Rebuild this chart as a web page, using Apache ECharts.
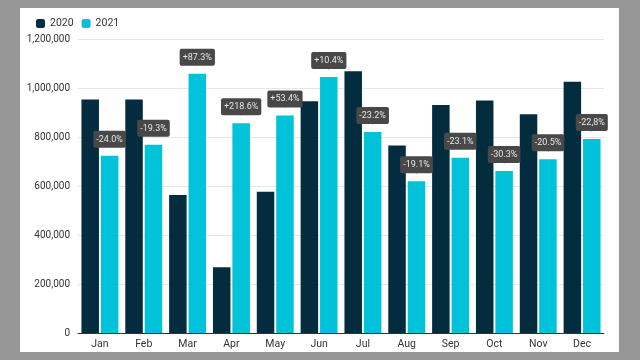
<!DOCTYPE html>
<html>
<head>
<meta charset="utf-8">
<script src="https://cdn.jsdelivr.net/npm/echarts@6/dist/echarts.min.js"></script>
<style>
html,body{margin:0;padding:0;background:#969696;}
#c{width:640px;height:360px;}
</style>
</head>
<body>
<div id="c"></div>
<script>
const months = ['Jan','Feb','Mar','Apr','May','Jun','Jul','Aug','Sep','Oct','Nov','Dec'];
const values2020 = [953000, 953000, 563000, 268000, 577000, 946000, 1068000, 765000, 931000, 949000, 893000, 1026000];
const values2021 = [723000, 768000, 1058000, 856000, 888000, 1045000, 820000, 619000, 715000, 661000, 709000, 792000];
const changeLabels = ['-24.0%','-19.3%','+87.3%','+218.6%','+53.4%','+10.4%','-23.2%','-19.1%','-23.1%','-30.3%','-20.5%','-22,8%'];
const yTicks = [0, 200000, 400000, 600000, 800000, 1000000, 1200000];

const chart = echarts.init(document.getElementById('c'), null, {renderer:'canvas'});
const font = "Roboto, sans-serif";
chart.setOption({
  backgroundColor: '#969696',
  animation: false,
  graphic: [{
    type: 'rect', z: -10, silent: true,
    shape: {x: 20, y: 8, width: 599, height: 344},
    style: {fill: '#ffffff'}
  }],
  legend: {
    left: 31, top: 13,
    itemWidth: 9, itemHeight: 9, itemGap: 8,
    icon: 'roundRect',
    textStyle: {fontFamily: font, fontSize: 10.5, color: '#333'},
    data: ['2020','2021']
  },
  grid: {left: 78, right: 36, top: 39, bottom: 27, containLabel: false},
  xAxis: {
    type: 'category',
    data: months,
    axisLine: {lineStyle: {color: '#333', width: 1}},
    axisTick: {show: false},
    axisLabel: {fontFamily: font, fontSize: 10.5, color: '#333', margin: 6}
  },
  yAxis: {
    type: 'value',
    min: yTicks[0], max: yTicks[yTicks.length-1], interval: yTicks[1]-yTicks[0],
    axisLine: {show: false},
    axisTick: {show: false},
    splitLine: {lineStyle: {color: '#e6e6e6', width: 1}},
    axisLabel: {
      fontFamily: font, fontSize: 10, color: '#333', margin: 8,
      formatter: v => v.toLocaleString('en-US')
    }
  },
  series: [
    {
      name: '2020', type: 'bar',
      data: values2020,
      barWidth: 17.5, barGap: '11%',
      itemStyle: {color: '#032c3f'}
    },
    {
      name: '2021', type: 'bar',
      data: values2021,
      barWidth: 17.5,
      itemStyle: {color: '#00c3da'},
      label: {
        show: true, position: 'top', distance: 7,
        formatter: p => '{box|' + changeLabels[p.dataIndex] + '}\n{arr|▼}',
        rich: {
          box: {
            fontFamily: font, fontSize: 9, color: '#e6e6e6',
            backgroundColor: '#484848', borderRadius: 2,
            padding: [4, 3], lineHeight: 11, align: 'center'
          },
          arr: {
            fontFamily: 'DejaVu Sans', fontSize: 6, color: '#484848',
            lineHeight: 4, align: 'center', padding: [-2, 0, 0, 0]
          }
        }
      }
    }
  ]
});
</script>
</body>
</html>
